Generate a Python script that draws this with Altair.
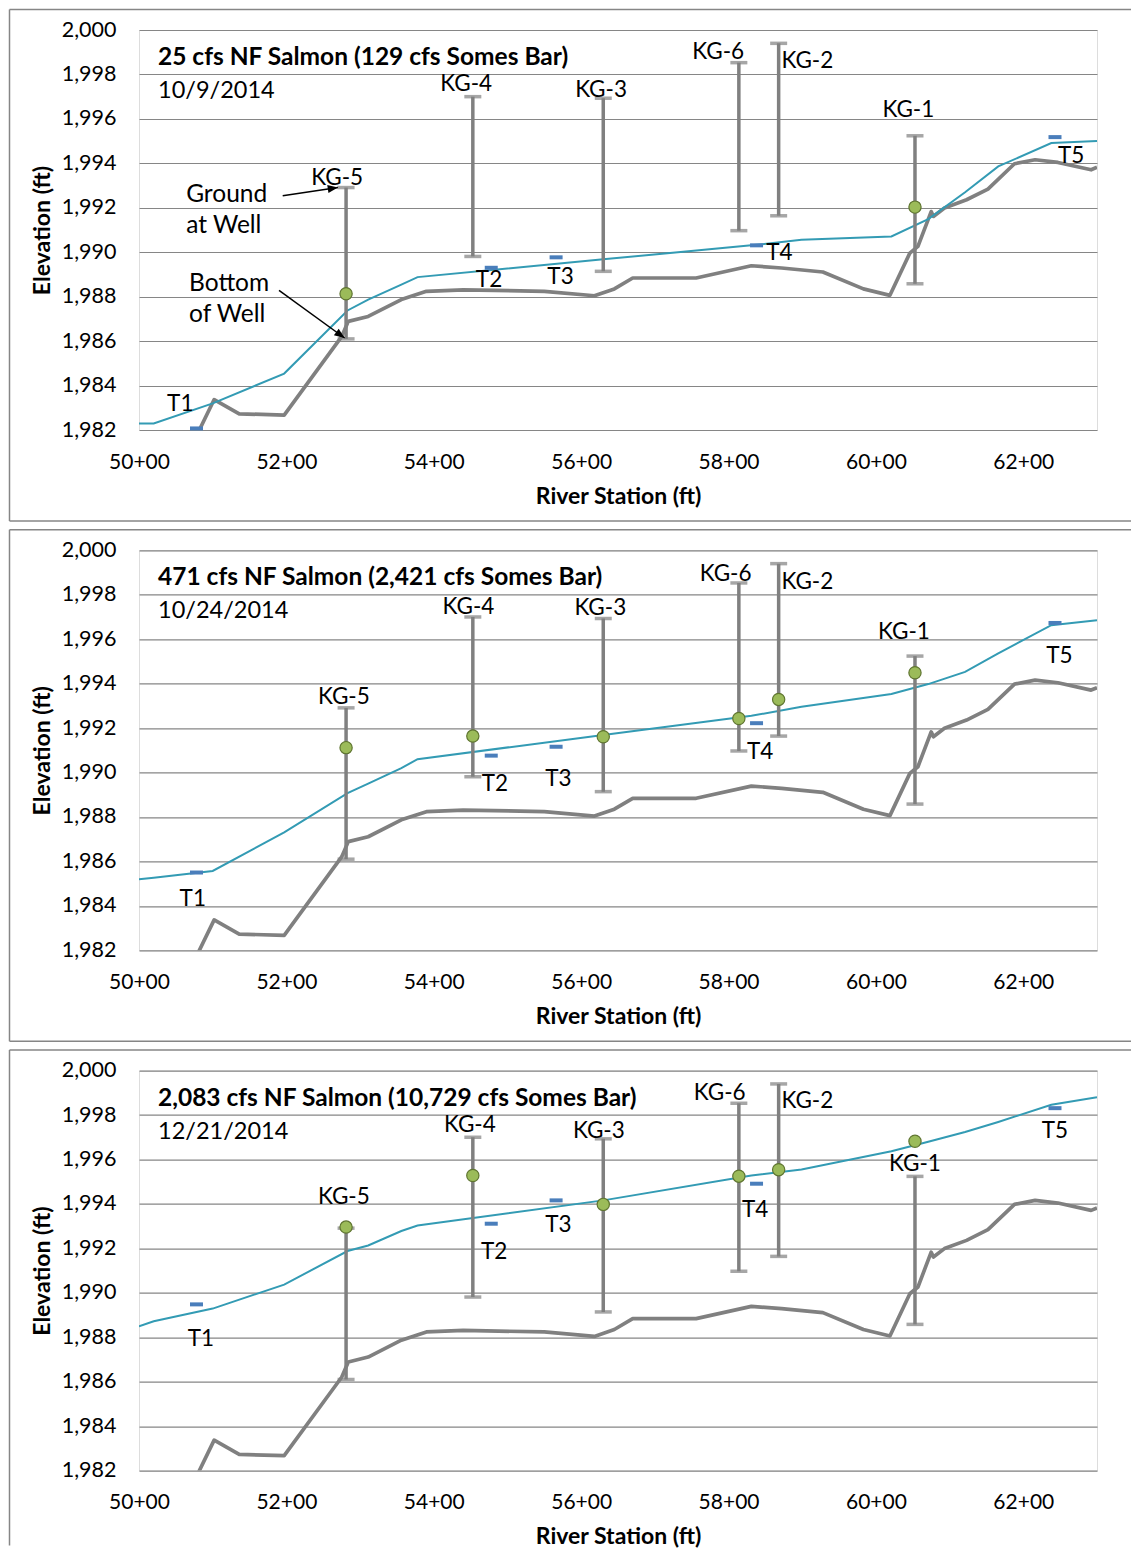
import math
import altair as alt
import pandas as pd

# ---------------- data ----------------
X_MIN, X_MAX = 5000, 6300
Y_MIN, Y_MAX = 1982, 2000
X_TICKS = [5000, 5200, 5400, 5600, 5800, 6000, 6200]
Y_TICKS = list(range(1982, 2001, 2))

# ground profile (thalweg), same in all panels
ground_sta = [5079, 5102, 5136, 5197, 5275, 5284, 5311, 5356, 5390, 5440, 5550, 5618,
              5645, 5670, 5756, 5831, 5872, 5928, 5983, 6019, 6046, 6057, 6075, 6078,
              6093, 6123, 6152, 6188, 6216, 6247, 6292, 6300]
ground_elev = [1981.8, 1983.37, 1982.73, 1982.67, 1986.2, 1986.89, 1987.11, 1987.87,
               1988.24, 1988.31, 1988.24, 1988.04, 1988.35, 1988.84, 1988.84, 1989.39,
               1989.29, 1989.11, 1988.35, 1988.06, 1989.96, 1990.26, 1991.83, 1991.61,
               1991.99, 1992.36, 1992.84, 1993.98, 1994.16, 1994.04, 1993.71, 1993.82]

# modelled water surface per panel
wse_sta = [5000, 5020, 5100, 5197, 5283, 5311, 5356, 5378, 5630, 5831, 5899, 6021,
           6071, 6121, 6166, 6238, 6300]
wse_p1 = [1982.29, 1982.29, 1983.2, 1984.54, 1987.38, 1987.87, 1988.54, 1988.88,
          1989.68, 1990.31, 1990.56, 1990.71, 1991.49, 1992.7, 1993.86, 1994.91, 1995.01]
wse_p2 = [1985.2, 1985.27, 1985.57, 1987.31, 1989.07, 1989.5, 1990.2, 1990.6,
          1991.69, 1992.55, 1992.96, 1993.53, 1993.98, 1994.53, 1995.36, 1996.63, 1996.85]
wse_p3 = [1988.49, 1988.72, 1989.29, 1990.37, 1991.88, 1992.13, 1992.78, 1993.03,
          1994.16, 1995.28, 1995.55, 1996.37, 1996.8, 1997.24, 1997.69, 1998.46, 1998.8]

# wells: ground at well (top) and bottom of well
well_names = ["KG-5", "KG-4", "KG-3", "KG-6", "KG-2", "KG-1"]
well_sta = [5281, 5453, 5630, 5814, 5868, 6053]
well_top = [1992.91, 1997.0, 1996.93, 1998.53, 1999.4, 1995.24]
well_bot = [1986.1, 1989.81, 1989.14, 1990.97, 1991.64, 1988.58]
# measured water level in wells
wl_p1 = [1988.13, None, None, None, None, 1992.03]
wl_p2 = [1991.12, 1991.64, 1991.61, 1992.43, 1993.29, 1994.49]
wl_p3 = [1992.96, 1995.28, 1993.98, 1995.25, 1995.54, 1996.82]
# well label anchor (station, elevation)
wlab_p1 = [(5269, 1993.33), (5444, 1997.57), (5627, 1997.3), (5786, 1999.02), (5907, 1998.62), (6044, 1996.4)]
wlab_p2 = [(5278, 1993.38), (5447, 1997.45), (5626, 1997.41), (5796, 1998.95), (5907, 1998.58), (6038, 1996.33)]
wlab_p3 = [(5278, 1994.31), (5449, 1997.53), (5624, 1997.3), (5788, 1999.0), (5907, 1998.65), (6053, 1995.81)]

# transects: measured water surface
t_names = ["T1", "T2", "T3", "T4", "T5"]
t_sta = [5078, 5478, 5566, 5838, 6243]
t_p1 = [1982.07, 1989.3, 1989.77, 1990.31, 1995.18]
t_p2 = [1985.5, 1990.76, 1991.16, 1992.22, 1996.73]
t_p3 = [1989.48, 1993.11, 1994.16, 1994.91, 1998.31]
tlab_p1 = [(5056, 1983.19), (5475, 1988.73), (5572, 1988.89), (5869, 1989.96), (6265, 1994.34)]
tlab_p2 = [(5073, 1984.31), (5483, 1989.47), (5569, 1989.69), (5843, 1990.91), (6249, 1995.24)]
tlab_p3 = [(5084, 1987.91), (5482, 1991.83), (5569, 1993.03), (5836, 1993.71), (6243, 1997.27)]

titles = ["25 cfs NF Salmon (129 cfs Somes Bar)",
          "471 cfs NF Salmon (2,421 cfs Somes Bar)",
          "2,083 cfs NF Salmon (10,729 cfs Somes Bar)"]
dates = ["10/9/2014", "10/24/2014", "12/21/2014"]

# annotation in first panel
note_text = ["Ground", "at Well", "Bottom", "of Well"]
note_sta = [5064, 5064, 5068, 5068]
note_elev = [1992.58, 1991.16, 1988.57, 1987.16]
arrow_from = [(5195, 1992.54), (5190, 1988.28)]
arrow_to = [(5270, 1992.91), (5279, 1986.14)]

# ---------------- styling ----------------
FONT = "Lato"
W, H = 958, 400
GRID = "#868686"
GRAY = "#808080"
TEAL = "#339BB4"
BLUE = "#4A7EBB"
GREEN = "#9BBB59"
GREEN_DARK = "#5F7530"

xscale = alt.Scale(domain=[X_MIN, X_MAX], nice=False, zero=False)
yscale = alt.Scale(domain=[Y_MIN, Y_MAX], nice=False, zero=False)
xaxis = alt.Axis(title="River Station (ft)", values=X_TICKS,
                 labelExpr="floor(datum.value / 100) + '+00'",
                 grid=False, ticks=False, tickSize=0, domain=False,
                 labelPadding=21, labelFlush=False, labelOverlap=False,
                 labelFont=FONT, labelFontSize=21, labelColor="black",
                 titleFont=FONT, titleFontSize=23, titleFontWeight="bold", titleColor="black",
                 titleY=66, titleBaseline="middle")
yaxis = alt.Axis(title="Elevation (ft)", values=Y_TICKS, format=",d",
                 grid=True, gridColor=GRID, gridWidth=1.2,
                 ticks=False, tickSize=0, domain=False,
                 labelPadding=23, labelFlush=False, labelOverlap=False,
                 labelFont=FONT, labelFontSize=21.5, labelColor="black",
                 titleFont=FONT, titleFontSize=23, titleFontWeight="bold", titleColor="black",
                 titleX=-97, titleY=H / 2, titleAngle=270, titleAlign="center",
                 titleBaseline="middle")


def X(field):
    return alt.X(f"{field}:Q", scale=xscale, axis=xaxis)


def Y(field):
    return alt.Y(f"{field}:Q", scale=yscale, axis=yaxis)


one = pd.DataFrame({"k": [0]})
ppx = W / (X_MAX - X_MIN)
ppy = H / (Y_MAX - Y_MIN)

FR_L, FR_T, FR_B, FR_R = -129.5, -20.5, 491, 992


def panel(i, wse, wl, wlab, tv, tlab, last=False):
    layers = []
    # outer frame of the panel (left, top, bottom)
    frame = alt.Chart(one)
    layers.append(frame.mark_rule(color=GRID, strokeWidth=1.5).encode(
        x=alt.value(FR_L), y=alt.value(FR_T), y2=alt.value(475 if last else FR_B)))
    layers.append(frame.mark_rule(color=GRID, strokeWidth=1.5).encode(
        x=alt.value(FR_L), x2=alt.value(FR_R), y=alt.value(FR_T)))
    if not last:
        layers.append(frame.mark_rule(color=GRID, strokeWidth=1.5).encode(
            x=alt.value(FR_L), x2=alt.value(FR_R), y=alt.value(FR_B)))

    gdf = pd.DataFrame({"s": ground_sta, "e": ground_elev})
    layers.append(alt.Chart(gdf).mark_line(color=GRAY, strokeWidth=3.7, clip=True,
                                           strokeJoin="round").encode(x=X("s"), y=Y("e")))
    wdf = pd.DataFrame({"s": wse_sta, "e": wse})
    layers.append(alt.Chart(wdf).mark_line(color=TEAL, strokeWidth=2, clip=True).encode(
        x=X("s"), y=Y("e")))

    welldf = pd.DataFrame({"s": well_sta, "top": well_top, "bot": well_bot,
                           "name": well_names,
                           "lx": [p[0] for p in wlab], "ly": [p[1] for p in wlab],
                           "wl": wl})
    layers.append(alt.Chart(welldf).mark_rule(color=GRAY, strokeWidth=3.5).encode(
        x=X("s"), y=Y("top"), y2="bot"))
    layers.append(alt.Chart(welldf).mark_tick(orient="horizontal", size=17, thickness=3.5,
                                              color=GRAY).encode(x=X("s"), y=Y("top")))
    layers.append(alt.Chart(welldf).mark_tick(orient="horizontal", size=17, thickness=3.5,
                                              color=GRAY).encode(x=X("s"), y=Y("bot")))

    tdf = pd.DataFrame({"s": t_sta, "e": tv, "name": t_names,
                        "lx": [p[0] for p in tlab], "ly": [p[1] for p in tlab]})
    layers.append(alt.Chart(tdf).mark_tick(orient="horizontal", size=13, thickness=4,
                                           color=BLUE, opacity=1).encode(x=X("s"), y=Y("e")))

    ptdf = welldf.dropna(subset=["wl"])
    layers.append(alt.Chart(ptdf).mark_point(shape="circle", filled=True, size=150,
                                             fill=GREEN, stroke=GREEN_DARK, strokeWidth=1.2,
                                             opacity=1).encode(x=X("s"), y=Y("wl")))

    layers.append(alt.Chart(welldf).mark_text(font=FONT, fontSize=22.5, color="black",
                                              align="center", baseline="middle").encode(
        x=X("lx"), y=Y("ly"), text="name:N"))
    layers.append(alt.Chart(tdf).mark_text(font=FONT, fontSize=22.5, color="black",
                                           align="center", baseline="middle").encode(
        x=X("lx"), y=Y("ly"), text="name:N"))

    layers.append(alt.Chart(one).mark_text(font=FONT, fontSize=24.5, fontWeight="bold",
                                           color="black", align="left", baseline="middle",
                                           text=titles[i]).encode(
        x=alt.value(19), y=alt.value(28)))
    layers.append(alt.Chart(one).mark_text(font=FONT, fontSize=23.5, color="black",
                                           align="left", baseline="middle",
                                           text=dates[i]).encode(
        x=alt.value(19), y=alt.value(61)))

    if i == 0:
        ndf = pd.DataFrame({"s": note_sta, "e": note_elev, "t": note_text})
        layers.append(alt.Chart(ndf).mark_text(font=FONT, fontSize=24.5, color="black",
                                               align="left", baseline="middle").encode(
            x=X("s"), y=Y("e"), text="t:N"))
        angs = []
        for (s1, e1), (s2, e2) in zip(arrow_from, arrow_to):
            a = math.degrees(math.atan2(-(e2 - e1) * ppy, (s2 - s1) * ppx)) % 360
            angs.append(a)
        adf = pd.DataFrame({"s1": [p[0] for p in arrow_from], "e1": [p[1] for p in arrow_from],
                            "s2": [p[0] for p in arrow_to], "e2": [p[1] for p in arrow_to],
                            "ang": angs})
        layers.append(alt.Chart(adf).mark_rule(color="black", strokeWidth=1.5).encode(
            x=X("s1"), y=Y("e1"), x2="s2", y2="e2"))
        layers.append(alt.Chart(adf).mark_point(shape="M0,0L-1,-0.4L-1,0.4Z", filled=True,
                                                color="black", size=420, opacity=1).encode(
            x=X("s2"), y=Y("e2"), angle=alt.Angle("ang:Q", scale=None)))

    return alt.layer(*layers).properties(width=W, height=H)


p1 = panel(0, wse_p1, wl_p1, wlab_p1, t_p1, tlab_p1)
p2 = panel(1, wse_p2, wl_p2, wlab_p2, t_p2, tlab_p2)
p3 = panel(2, wse_p3, wl_p3, wlab_p3, t_p3, tlab_p3, last=True)

chart = alt.vconcat(p1, p2, p3, spacing=5.3).properties(padding=0).configure_view(
    stroke=GRID, strokeWidth=1.5).configure(background="white", font=FONT)

chart.save("out.html", embed_options={"renderer": "svg", "actions": False})
